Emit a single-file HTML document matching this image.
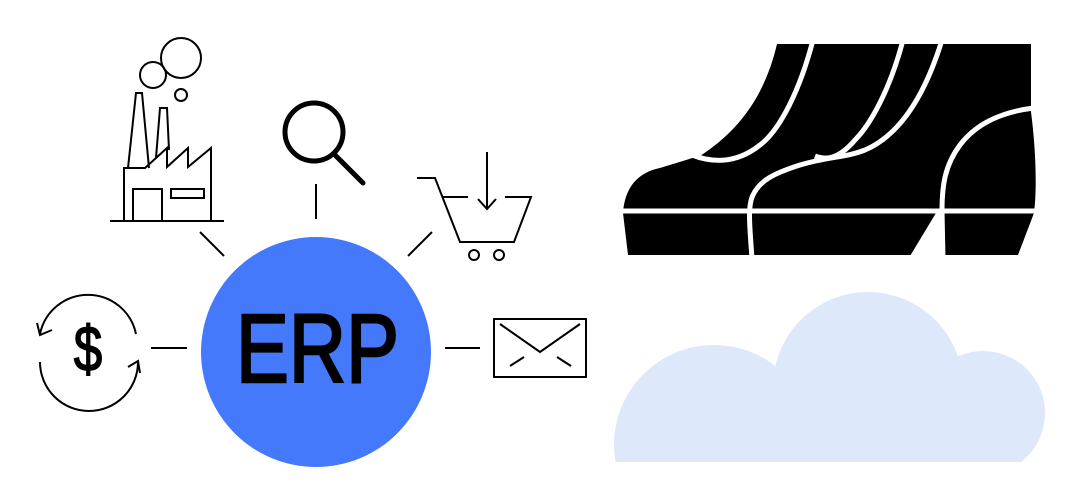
<!DOCTYPE html>
<html><head><meta charset="utf-8"><style>html,body{margin:0;padding:0;background:#fff;width:1083px;height:500px;overflow:hidden}svg{display:block}</style></head>
<body>
<svg width="1083" height="500" viewBox="0 0 1083 500" xmlns="http://www.w3.org/2000/svg">
<defs><clipPath id="cc"><rect x="0" y="0" width="1083" height="462"/></clipPath></defs>
<g fill="#dde8fb" clip-path="url(#cc)">
<circle cx="714" cy="445" r="100"/>
<circle cx="868" cy="387" r="95"/>
<circle cx="983" cy="413" r="62"/>
<rect x="714" y="400" width="270" height="62"/>
</g>
<path d="M777,44 L1031,44 L1031,112 C1036,150 1037,190 1034,213 L1018,255 L628,255 L623,213 C625,185 640,172 660,168 C680,162 695,157 700,156 C740,130 765,95 777,44 Z" fill="#000"/>
<g fill="none" stroke="#fff" stroke-width="5">
<line x1="615" y1="211" x2="1040" y2="211"/>
<path d="M813,40 C800,90 780,130 760,145 C735,165 710,162 692,155"/>
<path d="M903,40 C890,90 870,125 855,140 C838,160 825,160 815,156"/>
<path d="M942,40 C925,95 900,135 865,150 C845,158 830,156 800,165 C775,173 760,180 753,195 C748,205 749,220 752,258"/>
<path d="M1034,108 C1000,112 975,125 960,145 C945,165 942,185 942,211 L943,258"/>
</g>
<polygon points="936,213 941,213 941,256 910,256" fill="#fff"/>
<circle cx="316" cy="352" r="115" fill="#4479fb"/>
<text x="236" y="382" font-family="Liberation Sans, sans-serif" font-size="97" stroke="#000" stroke-width="2.5" textLength="163" lengthAdjust="spacingAndGlyphs" fill="#000">ERP</text>
<g stroke="#000" stroke-width="2" fill="none">
<line x1="200" y1="232" x2="224" y2="256"/>
<line x1="316" y1="184" x2="316" y2="219"/>
<line x1="432" y1="232" x2="408" y2="256"/>
<line x1="151" y1="348" x2="187" y2="348"/>
<line x1="445" y1="348" x2="480" y2="348"/>
<line x1="110" y1="221" x2="224" y2="221"/>
<polyline points="124,221 124,168 145,168 167,148 167,167 188,148 188,167 211,148 211,221"/>
<polyline points="128,168 136,93 142,93 149,168"/>
<polyline points="156,158 160,108 167,108 169,150"/>
<polyline points="133,221 133,189 162,189 162,221"/>
<rect x="171" y="189" width="33" height="9"/>
<circle cx="181" cy="58" r="20"/>
<circle cx="153" cy="75" r="13"/>
<circle cx="181" cy="95" r="6"/>
<polyline points="417,178 435,178 460,242 514,242 531,197 505,197"/>
<line x1="442" y1="197" x2="468" y2="197"/>
<line x1="487" y1="152" x2="487" y2="209"/>
<polyline points="478,199 487,209 496,199"/>
<circle cx="474" cy="255" r="5"/>
<circle cx="499" cy="255" r="5"/>
<rect x="494" y="319" width="92" height="58"/>
<polyline points="500,324 540,352 580,324"/>
<line x1="510" y1="366" x2="524" y2="357"/>
<line x1="557" y1="357" x2="571" y2="366"/>
<path d="M40,334 A49,49 0 0 1 136,334"/>
<polyline points="37,323 40,335 52,330"/>
<path d="M40,362 A49,49 0 0 0 138,362"/>
<polyline points="128,367 138,361 140,373"/>
</g>
<circle cx="314" cy="132" r="29" fill="none" stroke="#000" stroke-width="5"/>
<line x1="335" y1="155" x2="363" y2="183" stroke="#000" stroke-width="5" stroke-linecap="round"/>
<text x="88" y="371" text-anchor="middle" font-family="Liberation Sans, sans-serif" font-size="64" stroke="#000" stroke-width="1.5" transform="translate(88 0) scale(0.8 1) translate(-88 0)" fill="#000">$</text>
</svg>
</body></html>
